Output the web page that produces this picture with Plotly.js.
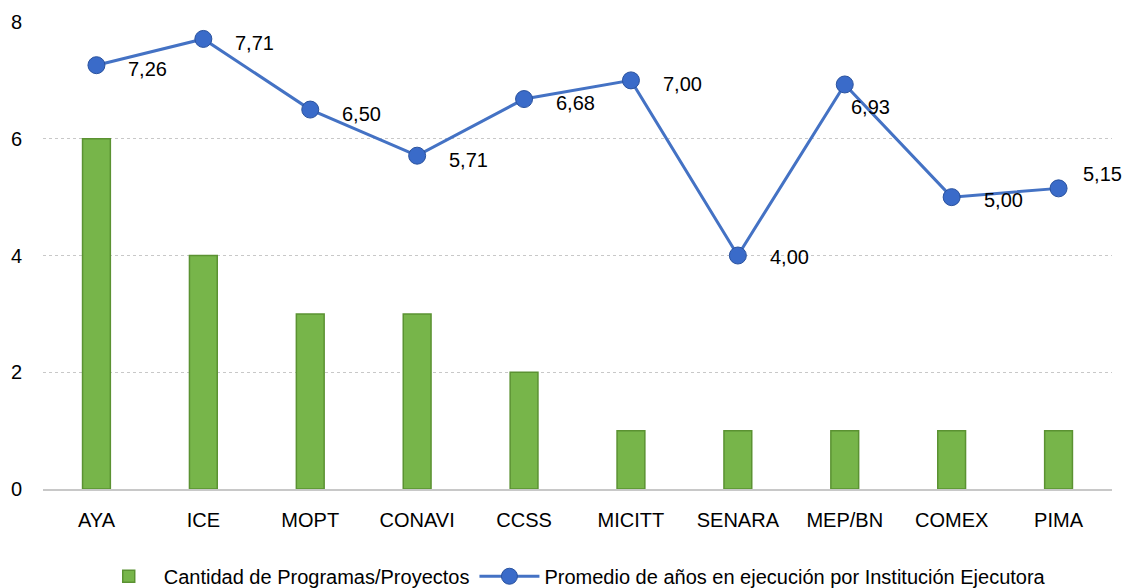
<!DOCTYPE html>
<html>
<head>
<meta charset="utf-8">
<script src="https://cdn.plot.ly/plotly-3.0.1.min.js"></script>
<style>html,body{margin:0;padding:0;background:#fff;}#chart{width:1122px;height:588px;}</style>
</head>
<body>
<div id="chart"></div>
<script>
const categories = ["AYA","ICE","MOPT","CONAVI","CCSS","MICITT","SENARA","MEP/BN","COMEX","PIMA"];
const cantidad = [6,4,3,3,2,1,1,1,1,1];
const promedio = [7.26,7.71,6.50,5.71,6.68,7.00,4.00,6.93,5.00,5.15];
const seriesNames = ["Cantidad de Programas/Proyectos","Promedio de años en ejecución por Institución Ejecutora"];

// label placement (style only): pixel shifts relative to each marker
const labelShiftX = [30,30,30,30,30,30,30,4,30,22];
const labelShiftY = [-4,-4,-4,-4,-4,-4,-1,-23,-3,14];

const fontFam = "Liberation Sans, Arial, sans-serif";
const fmt = v => v.toFixed(2).replace(".", ",");

const traces = [
  {
    type: "bar",
    x: categories,
    y: cantidad,
    name: seriesNames[0],
    width: 0.26,
    marker: {color: "#77b54a", line: {color: "#5b9232", width: 1.5}}
  },
  {
    type: "scatter",
    mode: "lines+markers",
    x: categories,
    y: promedio,
    name: seriesNames[1],
    line: {color: "#4472c4", width: 3},
    marker: {color: "#3a6bc9", size: 17, line: {color: "#2a529e", width: 1}},
    cliponaxis: false
  }
];

const annotations = categories.map((c, i) => ({
  x: c,
  y: promedio[i],
  xref: "x",
  yref: "y",
  text: fmt(promedio[i]),
  showarrow: false,
  xanchor: "left",
  yanchor: "middle",
  xshift: labelShiftX[i],
  yshift: labelShiftY[i],
  font: {family: fontFam, size: 20, color: "#000"}
}));

const layout = {
  width: 1122,
  height: 588,
  margin: {l: 43, r: 10, t: 22, b: 99},
  paper_bgcolor: "#fff",
  plot_bgcolor: "#fff",
  font: {family: fontFam, size: 20, color: "#000"},
  showlegend: true,
  annotations: annotations,
  xaxis: {
    type: "category",
    range: [-0.5, categories.length - 0.5],
    automargin: false,
    showgrid: false,
    showline: true,
    linecolor: "#c8c8c8",
    linewidth: 2,
    ticks: "",
    ticklabelstandoff: 12,
    tickfont: {family: fontFam, size: 20, color: "#000"},
    fixedrange: true
  },
  yaxis: {
    automargin: false,
    range: [0, 8],
    tickvals: [0,2,4,6,8],
    showgrid: true,
    gridcolor: "#c8c8c8",
    griddash: "dot",
    gridwidth: 1,
    zeroline: false,
    showline: false,
    ticks: "",
    ticklabelstandoff: 20,
    tickfont: {family: fontFam, size: 20, color: "#000"},
    fixedrange: true
  },
  legend: {
    orientation: "h",
    x: 0.51,
    xref: "container",
    xanchor: "center",
    y: 0.02,
    yref: "container",
    yanchor: "middle",
    font: {family: fontFam, size: 20, color: "#000"},
    itemwidth: 60,
    traceorder: "normal"
  }
};

Plotly.newPlot("chart", traces, layout, {displayModeBar: false, staticPlot: true});
</script>
</body>
</html>
